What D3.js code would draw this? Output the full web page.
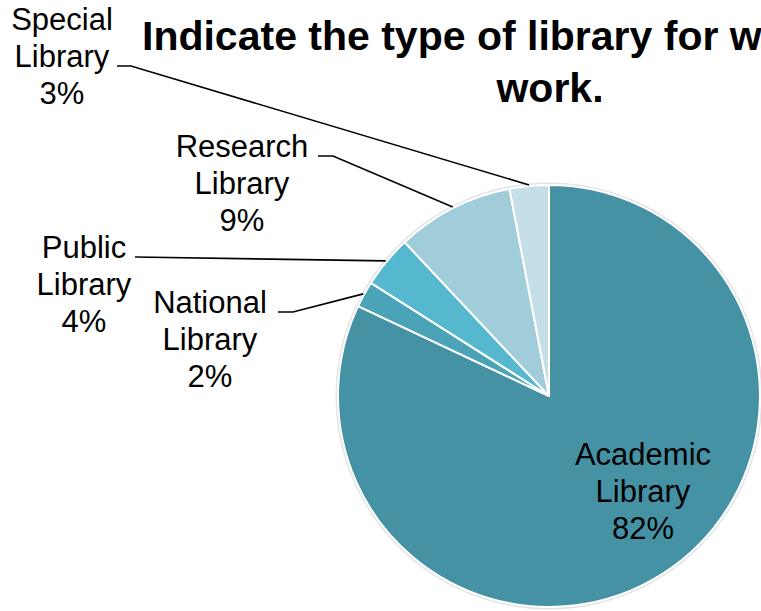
<!DOCTYPE html>
<html><head><meta charset="utf-8">
<script src="https://cdn.jsdelivr.net/npm/d3@7"></script>
<style>body{margin:0;background:#fff;overflow:hidden}svg{display:block}</style>
</head><body>
<svg id="c" width="761" height="611"></svg>
<script>
const categories = ["Academic Library","National Library","Public Library","Research Library","Special Library"];
const values = [82, 2, 4, 9, 3];
const colors = ["#4592A5","#4AA3B7","#55B8CF","#A1CDDB","#C5DFE8"];
const titleLines = ["Indicate the type of library for which you","work."];

const svg = d3.select("#c");
const cx = 549, cy = 396, R = 211;
const font = "Liberation Sans, Arial, sans-serif";

// title
svg.append("text").attr("x",142).attr("y",50).attr("font-family",font).attr("font-weight","bold")
  .attr("font-size",41).attr("fill","#000").text(titleLines[0]);
svg.append("text").attr("x",550).attr("y",102).attr("text-anchor","middle").attr("font-family",font).attr("font-weight","bold")
  .attr("font-size",41).attr("fill","#000").text(titleLines[1]);

const pie = d3.pie().sort(null).value(d=>d)(values);
const arc = d3.arc().innerRadius(0).outerRadius(R);
const g = svg.append("g").attr("transform",`translate(${cx},${cy})`);

// faint shadow
g.append("circle").attr("r",R+1.5).attr("fill","none").attr("stroke","#e4e4e4").attr("stroke-width",2);

g.selectAll("path.s").data(pie).join("path").attr("class","s")
  .attr("d",arc).attr("fill",(d,i)=>colors[i]).attr("stroke","#fff").attr("stroke-width",2).attr("stroke-linejoin","round");

const total = d3.sum(values);
const pct = v => Math.round(v/total*100) + "%";

// label layout (positions only)
const labelPos = [
  {x:643, y:465, inside:true},
  {x:210, y:313, hx:[278,293], line:0},
  {x:84,  y:258, hx:[135,135], line:0},
  {x:242, y:157, hx:[318,333], line:0},
  {x:62,  y:30,  hx:[117,131], line:1}
];
const lh = 37;

pie.forEach((d,i)=>{
  const p = labelPos[i];
  const words = categories[i].split(" ");
  const lines = [words[0], words[1], pct(values[i])];
  const t = svg.append("text").attr("font-family",font).attr("font-size",31).attr("fill","#000").attr("text-anchor","middle");
  lines.forEach((l,k)=>t.append("tspan").attr("x",p.x).attr("y",p.y+k*lh).text(l));
  if(!p.inside){
    const a = (d.startAngle+d.endAngle)/2;
    const ex = cx + Math.sin(a)*(R+1), ey = cy - Math.cos(a)*(R+1);
    const ly = p.y + p.line*lh - 1;
    const pts = p.hx[0]===p.hx[1] ? [[p.hx[0],ly],[ex,ey]] : [[p.hx[0],ly],[p.hx[1],ly],[ex,ey]];
    svg.append("path").attr("d",d3.line()(pts)).attr("fill","none").attr("stroke","#000").attr("stroke-width",1.6);
  }
});
</script>
</body></html>
